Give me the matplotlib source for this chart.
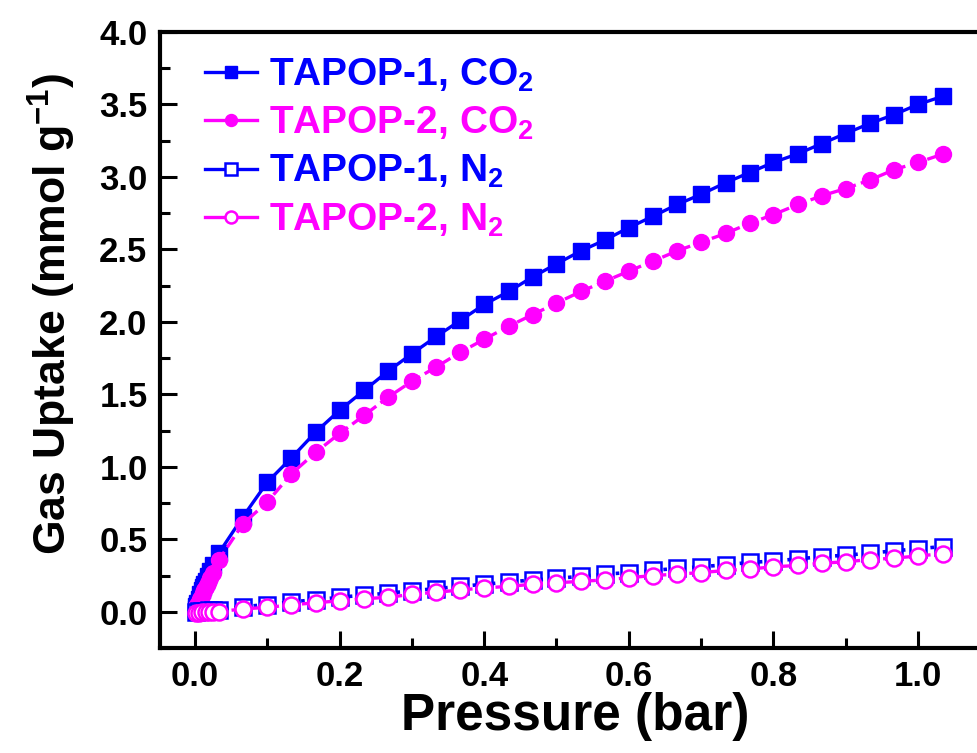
import matplotlib
matplotlib.use('Agg')
import matplotlib.pyplot as plt
from matplotlib.ticker import MultipleLocator

plt.rcParams['font.family'] = ['Liberation Sans', 'DejaVu Sans']
plt.rcParams['font.weight'] = 'bold'
plt.rcParams['mathtext.fontset'] = 'custom'
plt.rcParams['mathtext.rm'] = 'Liberation Sans:bold'
plt.rcParams['mathtext.bf'] = 'Liberation Sans:bold'
plt.rcParams['mathtext.default'] = 'bf'

# CO2 isotherms (bar, mmol/g)
p_co2 = [0.001, 0.002, 0.003, 0.005, 0.007, 0.009, 0.011, 0.013, 0.015, 0.018, 0.021, 0.025,
         0.033, 0.066, 0.100, 0.133, 0.167, 0.200, 0.234, 0.267, 0.300, 0.334, 0.367, 0.400,
         0.434, 0.467, 0.500, 0.534, 0.567, 0.600, 0.634, 0.667, 0.700, 0.734, 0.767, 0.800,
         0.834, 0.867, 0.900, 0.934, 0.967, 1.000, 1.034]
tapop1_co2 = [0.02, 0.04, 0.06, 0.09, 0.12, 0.15, 0.17, 0.19, 0.21, 0.25, 0.28, 0.32,
              0.405, 0.653, 0.894, 1.06, 1.24, 1.39, 1.527, 1.66, 1.78, 1.90, 2.01, 2.12,
              2.21, 2.31, 2.40, 2.49, 2.565, 2.65, 2.73, 2.81, 2.88, 2.96, 3.03, 3.10,
              3.16, 3.23, 3.30, 3.37, 3.43, 3.50, 3.556]
tapop2_co2 = [0.01, 0.03, 0.05, 0.07, 0.09, 0.11, 0.13, 0.15, 0.17, 0.20, 0.23, 0.27,
              0.357, 0.605, 0.757, 0.95, 1.10, 1.23, 1.355, 1.48, 1.59, 1.69, 1.79, 1.88,
              1.97, 2.05, 2.13, 2.21, 2.28, 2.35, 2.42, 2.49, 2.55, 2.61, 2.68, 2.74,
              2.81, 2.87, 2.92, 2.98, 3.05, 3.10, 3.157]

# N2 isotherms
p_n2 = [0.002, 0.006, 0.010, 0.015, 0.020, 0.025,
        0.033, 0.066, 0.100, 0.133, 0.167, 0.200, 0.234, 0.267, 0.300, 0.334, 0.367, 0.400,
        0.434, 0.467, 0.500, 0.534, 0.567, 0.600, 0.634, 0.667, 0.700, 0.734, 0.767, 0.800,
        0.834, 0.867, 0.900, 0.934, 0.967, 1.000, 1.034]
tapop1_n2 = [0.0, 0.003, 0.006, 0.008, 0.010, 0.012,
             0.015, 0.035, 0.05, 0.068, 0.083, 0.10, 0.115, 0.128, 0.145, 0.16, 0.175, 0.19,
             0.205, 0.22, 0.23, 0.245, 0.26, 0.27, 0.285, 0.30, 0.31, 0.325, 0.34, 0.35,
             0.365, 0.38, 0.39, 0.405, 0.42, 0.435, 0.45]
tapop2_n2 = [-0.01, -0.01, -0.005, -0.005, 0.0, 0.0,
             0.0, 0.02, 0.03, 0.048, 0.062, 0.076, 0.09, 0.10, 0.12, 0.135, 0.15, 0.165,
             0.175, 0.19, 0.20, 0.21, 0.22, 0.235, 0.25, 0.26, 0.27, 0.285, 0.295, 0.31,
             0.32, 0.335, 0.345, 0.36, 0.37, 0.385, 0.40]

blue = '#0000FF'
magenta = '#FF00FF'

fig = plt.figure(figsize=(9.78, 7.53), dpi=100)
ax = fig.add_axes([160 / 978, 105 / 753, 830 / 978, 616 / 753])

ms = 11.5
ax.plot(p_co2, tapop1_co2, '-', color=blue, lw=2.4, marker='s', ms=ms, mfc=blue, mec=blue,
        label='TAPOP-1, CO$_2$')
ax.plot(p_co2, tapop2_co2, '--', color=magenta, lw=2.4, marker='o', ms=ms, mfc=magenta, mec=magenta,
        label='TAPOP-2, CO$_2$')
ax.plot(p_n2, tapop1_n2, ':', color=blue, lw=2.6, marker='s', ms=ms, mfc='white', mec=blue, mew=1.8,
        label='TAPOP-1, N$_2$')
ax.plot(p_n2, tapop2_n2, '--', color=magenta, lw=2.4, marker='o', ms=ms, mfc='white', mec=magenta, mew=1.8,
        label='TAPOP-2, N$_2$')

ax.set_xlim(-0.0484, -0.0484 + 830 / 723)
ax.set_ylim(-0.25, 4.0)

ax.xaxis.set_major_locator(MultipleLocator(0.2))
ax.xaxis.set_minor_locator(MultipleLocator(0.1))
ax.yaxis.set_major_locator(MultipleLocator(0.5))
ax.yaxis.set_minor_locator(MultipleLocator(0.25))
ax.tick_params(which='both', direction='in', width=2.2, labelsize=25, pad=9)
ax.tick_params(which='major', length=12)
ax.tick_params(which='minor', length=7)
ax.tick_params(axis='both', which='both', top=False, right=False)
for s in ax.spines.values():
    s.set_linewidth(3)

ax.set_xlabel('Pressure (bar)', fontsize=37, fontweight='bold')
ax.set_ylabel('Gas Uptake (mmol g$^{-1}$)', fontsize=32, fontweight='bold')
ax.yaxis.set_label_coords(-0.099, 0.542)
ax.xaxis.set_label_coords(0.5, -0.072)

leg = ax.legend(loc='upper left', bbox_to_anchor=(0.035, 0.985), frameon=False,
                prop={'weight': 'bold', 'size': 28},
                markerscale=0.75, handlelength=1.35, handletextpad=0.3,
                labelspacing=0.28, borderaxespad=0)
for text, line in zip(leg.get_texts(), leg.get_lines()):
    text.set_color(line.get_color())
for line in leg.get_lines():
    line.set_linestyle('-')
    line.set_linewidth(2.4)

fig.savefig('out.png', dpi=100)
